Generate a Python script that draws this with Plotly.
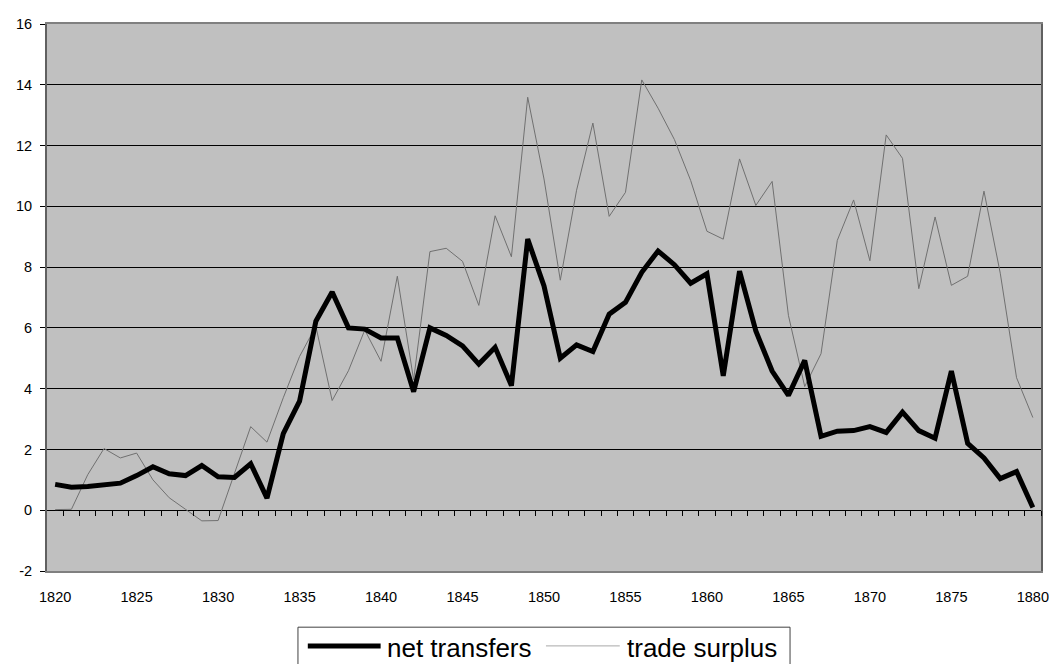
import plotly.graph_objects as go

years = list(range(1820, 1881))

net_transfers = [
    0.85, 0.76, 0.78, 0.82, 0.89, 1.14, 1.43, 1.20, 1.14, 1.47,
    1.10, 1.08, 1.53, 0.40, 2.52, 3.59, 6.22, 7.18, 6.00, 5.96,
    5.67, 5.67, 3.90, 6.00, 5.75, 5.41, 4.81, 5.36, 4.10, 8.92,
    7.38, 5.00, 5.44, 5.22, 6.45, 6.84, 7.83, 8.53, 8.08, 7.47,
    7.78, 4.42, 7.87, 5.90, 4.58, 3.78, 4.93, 2.43, 2.60, 2.62,
    2.75, 2.56, 3.23, 2.62, 2.37, 4.58, 2.20, 1.72, 1.04, 1.27,
    0.09,
]

trade_surplus = [
    0.02, 0.03, 1.17, 2.03, 1.72, 1.88, 1.00, 0.41, 0.03, -0.35,
    -0.34, 1.20, 2.75, 2.24, 3.70, 5.06, 6.05, 3.61, 4.59, 5.93,
    4.90, 7.70, 4.29, 8.51, 8.62, 8.19, 6.74, 9.69, 8.34, 13.59,
    10.90, 7.57, 10.53, 12.74, 9.67, 10.46, 14.16, 13.23, 12.20, 10.85,
    9.18, 8.92, 11.56, 10.03, 10.82, 6.41, 4.07, 5.15, 8.88, 10.21,
    8.21, 12.35, 11.58, 7.29, 9.65, 7.40, 7.70, 10.50, 7.80, 4.36,
    3.05,
]

x_label_vals = list(range(1820, 1881, 5))
y_tick_vals = list(range(-2, 17, 2))
series_names = ["net transfers", "trade surplus"]

FONT = "Liberation Sans, Arial, sans-serif"

# The page body has the browser's default 8px margin; compensate so the
# plot area sits where it does in the reference (page px 38..1048 x 16..571).
PAGE_OFF = 8
PLOT_L, PLOT_R, PLOT_T, PLOT_B = 38, 1048, 16, 571
FIG_W, FIG_H = 1057 - PAGE_OFF, 664 - PAGE_OFF
PW, PH = PLOT_R - PLOT_L, PLOT_B - PLOT_T


def px(xp):
    return (xp - PLOT_L) / PW


def py(yp):
    return (PLOT_B - yp) / PH


fig = go.Figure()

fig.add_trace(go.Scatter(
    x=years, y=trade_surplus, mode="lines", name=series_names[1],
    line=dict(color="#707070", width=1), showlegend=False,
))
fig.add_trace(go.Scatter(
    x=years, y=net_transfers, mode="lines", name=series_names[0],
    line=dict(color="#000000", width=5), showlegend=False,
))
# invisible trace to activate the category-boundary tick axis along y=0
fig.add_trace(go.Scatter(
    x=[years[0]], y=[0], xaxis="x2", yaxis="y", mode="markers",
    marker=dict(opacity=0), hoverinfo="skip", showlegend=False,
))

xr = [years[0] - 0.5, years[-1] + 0.5]
yr = [y_tick_vals[0], y_tick_vals[-1]]
boundaries = [y + 0.5 for y in years[:-1]] + [years[-1] + 0.5]

fig.update_layout(
    width=FIG_W, height=FIG_H,
    margin=dict(l=PLOT_L - PAGE_OFF, r=FIG_W - (PLOT_R - PAGE_OFF),
                t=PLOT_T - PAGE_OFF, b=FIG_H - (PLOT_B - PAGE_OFF)),
    paper_bgcolor="white",
    plot_bgcolor="#C0C0C0",
    font=dict(family=FONT, size=14.5, color="black"),
    xaxis=dict(
        range=xr, tickvals=x_label_vals, ticktext=[str(v) for v in x_label_vals],
        showgrid=False, zeroline=False, ticks="", ticklabelstandoff=12,
        showline=True, linecolor="#808080", linewidth=2, mirror=True,
        tickfont=dict(family=FONT, size=14.5, color="black"),
    ),
    xaxis2=dict(
        range=xr, overlaying="x", anchor="free", position=(0 - yr[0]) / (yr[1] - yr[0]),
        side="bottom", tickvals=boundaries, ticks="outside", ticklen=5,
        tickwidth=1, tickcolor="black", showticklabels=False, showgrid=False,
        zeroline=False, showline=False,
    ),
    yaxis=dict(
        range=yr, tickvals=y_tick_vals, ticktext=[str(v) for v in y_tick_vals],
        showgrid=True, gridcolor="black", gridwidth=1,
        zeroline=True, zerolinecolor="black", zerolinewidth=1,
        ticks="outside", ticklen=5, tickcolor="black", tickwidth=1,
        ticklabelstandoff=5,
        showline=True, linecolor="#606060", linewidth=2, mirror=True,
        tickfont=dict(family=FONT, size=14.5, color="black"),
    ),
)

# Manual legend (box, line samples, labels) below the plot
fig.add_shape(type="rect", xref="paper", yref="paper",
              x0=px(293), x1=px(793), y0=py(628), y1=py(680),
              line=dict(color="#404040", width=1), fillcolor="white", layer="above")
fig.add_shape(type="line", xref="paper", yref="paper",
              x0=px(303), x1=px(377), y0=py(647), y1=py(647),
              line=dict(color="black", width=5))
fig.add_shape(type="line", xref="paper", yref="paper",
              x0=px(545), x1=px(620), y0=py(647), y1=py(647),
              line=dict(color="#a8a8a8", width=1))
fig.add_annotation(text=series_names[0], xref="paper", yref="paper",
                   x=px(381), y=py(649),
                   xanchor="left", yanchor="middle", showarrow=False,
                   font=dict(family=FONT, size=26, color="black"))
fig.add_annotation(text=series_names[1], xref="paper", yref="paper",
                   x=px(625), y=py(649),
                   xanchor="left", yanchor="middle", showarrow=False,
                   font=dict(family=FONT, size=26, color="black"))

fig.write_html("out.html")
